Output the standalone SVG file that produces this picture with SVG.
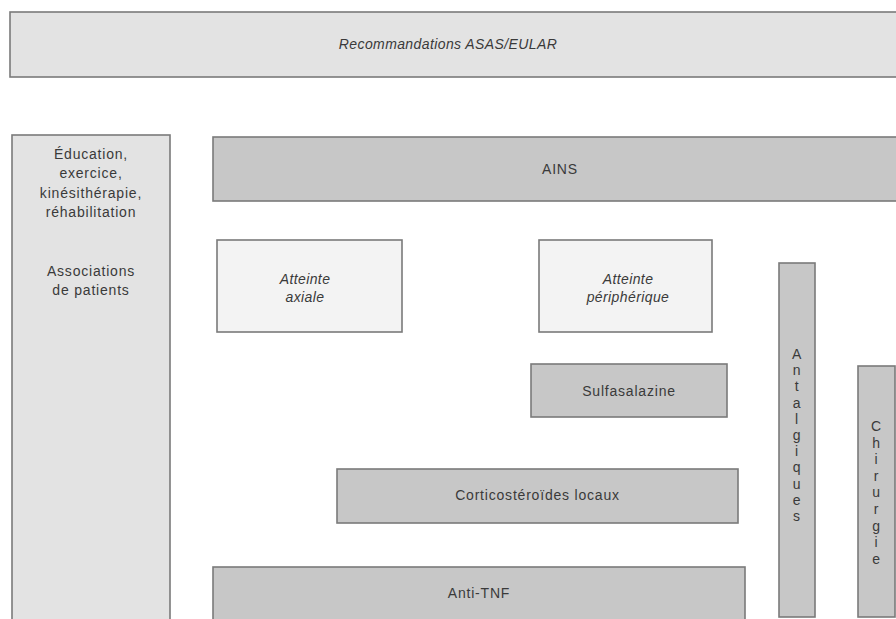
<svg xmlns="http://www.w3.org/2000/svg" width="896" height="619" viewBox="0 0 896 619">
<style>
.box{stroke:#7a7a7a;stroke-width:1.6}
.light{fill:#e3e3e3}
.mid{fill:#c7c7c7}
.pale{fill:#f3f3f3}
text{font-family:"Liberation Sans",Arial,sans-serif;fill:#3a3a3a;text-anchor:middle;font-size:14px;letter-spacing:0.8px}
.it{font-style:italic;letter-spacing:0.4px}
</style>
<rect width="896" height="619" fill="#ffffff"/>
<g id="recommandations">
<rect class="box light" x="10" y="12" width="900" height="65"/>
<text class="it" x="448" y="49">Recommandations ASAS/EULAR</text>
</g>
<g id="education">
<rect class="box light" x="12" y="135" width="158" height="500"/>
<text x="91" y="159">Éducation,</text>
<text x="91" y="178">exercice,</text>
<text x="91" y="198">kinésithérapie,</text>
<text x="91" y="217">réhabilitation</text>
<text x="91" y="276">Associations</text>
<text x="91" y="295">de patients</text>
</g>
<g id="ains">
<rect class="box mid" x="213" y="137" width="700" height="64"/>
<text x="560" y="174">AINS</text>
</g>
<g id="axiale">
<rect class="box pale" x="217" y="240" width="185" height="92"/>
<text class="it" x="305" y="284">Atteinte</text>
<text class="it" x="305" y="302">axiale</text>
</g>
<g id="peripherique">
<rect class="box pale" x="539" y="240" width="173" height="92"/>
<text class="it" x="628" y="284">Atteinte</text>
<text class="it" x="628" y="302">périphérique</text>
</g>
<g id="antalgiques">
<rect class="box mid" x="779" y="263" width="36" height="354"/>
<text x="797" y="359">A</text>
<text x="797" y="375.2">n</text>
<text x="797" y="391.4">t</text>
<text x="797" y="407.6">a</text>
<text x="797" y="423.8">l</text>
<text x="797" y="440">g</text>
<text x="797" y="456.2">i</text>
<text x="797" y="472.4">q</text>
<text x="797" y="488.6">u</text>
<text x="797" y="504.8">e</text>
<text x="797" y="521">s</text>
</g>
<g id="chirurgie">
<rect class="box mid" x="858" y="366" width="37" height="251"/>
<text x="876.5" y="431">C</text>
<text x="876.5" y="447.6">h</text>
<text x="876.5" y="464.2">i</text>
<text x="876.5" y="480.8">r</text>
<text x="876.5" y="497.4">u</text>
<text x="876.5" y="514">r</text>
<text x="876.5" y="530.6">g</text>
<text x="876.5" y="547.2">i</text>
<text x="876.5" y="563.8">e</text>
</g>
<g id="sulfasalazine">
<rect class="box mid" x="531" y="364" width="196" height="53"/>
<text x="629" y="396">Sulfasalazine</text>
</g>
<g id="corticosteroides">
<rect class="box mid" x="337" y="469" width="401" height="54"/>
<text x="537.5" y="500">Corticostéroïdes locaux</text>
</g>
<g id="antitnf">
<rect class="box mid" x="213" y="567" width="532" height="70"/>
<text x="479" y="598">Anti-TNF</text>
</g>
<g id="connectors"></g>
</svg>
